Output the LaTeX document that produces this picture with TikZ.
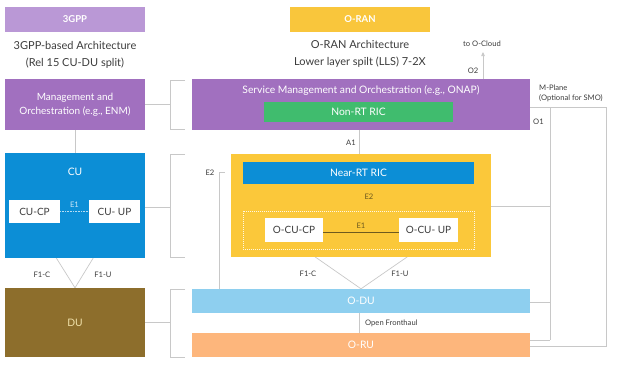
\documentclass[tikz,border=0pt]{standalone}
\usepackage{fontspec}
\setmainfont{Lato}
\usetikzlibrary{backgrounds,arrows.meta,calc}
\definecolor{lav}{RGB}{186,152,214}
\definecolor{purp}{RGB}{161,112,191}
\definecolor{grn}{RGB}{64,188,110}
\definecolor{blu}{RGB}{12,142,214}
\definecolor{yel}{RGB}{251,200,58}
\definecolor{yelhead}{RGB}{249,198,60}
\definecolor{olv}{RGB}{141,110,44}
\definecolor{ltblu}{RGB}{142,207,239}
\definecolor{orng}{RGB}{253,182,124}
\definecolor{lgray}{RGB}{200,200,200}
\definecolor{txt}{RGB}{60,60,60}
\definecolor{yeltxt}{RGB}{110,90,30}
\begin{document}
\begin{tikzpicture}[x=1pt,y=-1pt,
  blk/.style={draw=none,inner sep=0pt,align=center,text=white},
  btxt/.style={font=\fontsize{10.3}{13}\selectfont},
  wbox/.style={fill=white,inner sep=0pt,text=txt,font=\fontsize{10}{11}\selectfont},
  lbl/.style={inner sep=0pt,text=txt,font=\fontsize{7.6}{9}\selectfont},
  head/.style={inner sep=0pt,text=txt,align=center,font=\fontsize{11}{17}\selectfont},
  conn/.style={draw=lgray,line width=0.7pt},
]
\useasboundingbox (0,0) rectangle (618,367);
% headers
\node[blk,fill=lav,minimum width=140,minimum height=25,font=\bfseries\fontsize{9.5}{10}\selectfont] (gpp) at (75,19.5) {3GPP};
\node[blk,fill=yelhead,minimum width=140,minimum height=25,font=\bfseries\fontsize{9.5}{10}\selectfont] (oran) at (360,19.5) {O-RAN};
\node[head] (gpptxt) at (75,55) {3GPP-based Architecture\\(Rel 15 CU-DU split)};
\node[head] (orantxt) at (360,53.5) {O-RAN Architecture\\Lower layer spilt (LLS) 7-2X};
% left column
\node[blk,fill=purp,minimum width=140,minimum height=51,font=\fontsize{10}{13.5}\selectfont] (mgmt) at (75,104.5) {Management and\\Orchestration (e.g., ENM)};
\node[blk,fill=blu,minimum width=140,minimum height=105] (cu) at (75,205.5) {};
\node[blk,btxt] (cutxt) at (75,172) {CU};
\node[wbox,minimum width=51,minimum height=23] (cucp) at (34.5,211.5) {CU-CP};
\node[wbox,minimum width=51,minimum height=23] (cuup) at (114.5,211.5) {CU- UP};
\node[blk,btxt,fill=olv,minimum width=140,minimum height=69,text={rgb,255:red,240;green,225;blue,170}] (du) at (75,322.5) {DU};
% right column
\node[blk,fill=purp,minimum width=338,minimum height=51] (smo) at (361,104.5) {};
\node[blk,btxt] (smotxt) at (361,90) {Service Management and Orchestration (e.g., ONAP)};
\node[blk,btxt,fill=grn,minimum width=189,minimum height=20] (nonrt) at (358.5,112) {Non-RT RIC};
\node[blk,fill=yel,minimum width=260,minimum height=103] (yb) at (361,205.5) {};
\node[blk,btxt,fill=blu,minimum width=231,minimum height=22] (nearrt) at (358.5,173) {Near-RT RIC};
\node[draw=white!85!yel,dash pattern=on 1pt off 1pt,line width=0.5pt,minimum width=231,minimum height=38,inner sep=0pt] (inner) at (358.5,230) {};
\node[wbox,minimum width=58,minimum height=24] (ocucp) at (294,230) {O-CU-CP};
\node[wbox,minimum width=59,minimum height=24] (ocuup) at (428.5,230) {O-CU- UP};
\node[blk,btxt,fill=ltblu,minimum width=338,minimum height=24] (odu) at (361,301) {O-DU};
\node[blk,btxt,fill=orng,minimum width=338,minimum height=24] (oru) at (361,345) {O-RU};
% coordinates
\coordinate (b1t) at (185,80); \coordinate (b1b) at (185,129);
\coordinate (b2t) at (185,154); \coordinate (b2b) at (185,257);
\coordinate (b3t) at (185,289); \coordinate (b3b) at (185,357);
\coordinate (e2a) at (225,172);
\coordinate (o2end) at (483,52);
\coordinate (o1r) at (606,107);
\coordinate (o1m) at (550,107);
\coordinate (o1bot) at (550,340);
% brackets
\draw[conn] (b1t) -- ++(-15,0) |- (b1b);
\draw[conn] (b2t) -- ++(-15,0) |- (b2b);
\draw[conn] (b3t) -- ++(-15,0) |- (b3b);
\draw[conn] (mgmt.east) -- (170,104.5);
\draw[conn] (cu.east |- 0,207) -- (170,207);
\draw[conn] (du.east) -- (170,322.5);
% background connectors
\begin{scope}[on background layer]
\draw[conn] (mgmt.south) -- (cu.north);
\draw[conn] (cucp.south) -- (du.north);
\draw[conn] (cuup.south) -- (du.north);
\draw[conn] (ocucp.south) -- (odu.north);
\draw[conn] (ocuup.south) -- (odu.north);
\draw[conn] (nonrt.south -| 359,0) -- (nearrt.north -| 359,0);
\draw[conn] (odu.south -| 359,0) -- (oru.north -| 359,0);
\draw[conn] (odu.north -| 219,0) |- (e2a);
\draw[conn,-{Triangle[length=4pt,width=3.5pt]}] (smo.north -| o2end) -- (o2end);
\draw[conn] (smo.east |- o1r) -- (o1r) -- (o1r |- 0,346) -- (oru.east |- 0,346);
\draw[conn] (o1m) -- (o1bot);
\draw[conn] (yb.east |- 0,206) -- (550,206);
\draw[conn] (odu.east |- 0,302) -- (550,302);
\draw[conn] (oru.east |- o1bot) -- (o1bot);
\end{scope}
% E1 links
\draw[draw=white!70!blu,line width=0.6pt,dash pattern=on 1pt off 0.6pt] (cucp.east) -- (cuup.west);
\draw[draw=yeltxt,line width=0.6pt] (ocucp.east |- 0,232) -- (ocuup.west |- 0,232);
% labels
\node[lbl,text=white!80!blu] (le1a) at (74.5,204.5) {E1};
\node[lbl] (lf1c) at (42,275) {F1-C};
\node[lbl] (lf1u) at (103,275) {F1-U};
\node[lbl] (la1) at (351,143) {A1};
\node[lbl,text=yeltxt] (le2b) at (369,197) {E2};
\node[lbl,text=yeltxt] (le1b) at (361,225.5) {E1};
\node[lbl] (le2a) at (210,173) {E2};
\node[lbl] (lf1cb) at (308,274) {F1-C};
\node[lbl] (lf1ub) at (400,274) {F1-U};
\node[lbl,anchor=west] (lofh) at (365,323.5) {Open Fronthaul};
\node[lbl] (lcloud) at (482,43.5) {to O-Cloud};
\node[lbl] (lo2) at (473,71) {O2};
\node[lbl,anchor=west] (lo1) at (533,121.5) {O1};
\node[lbl,anchor=west,align=left,font=\fontsize{7.6}{10.5}\selectfont] (lmp) at (539,93.5) {M-Plane\\(Optional for SMO)};
\end{tikzpicture}
\end{document}
